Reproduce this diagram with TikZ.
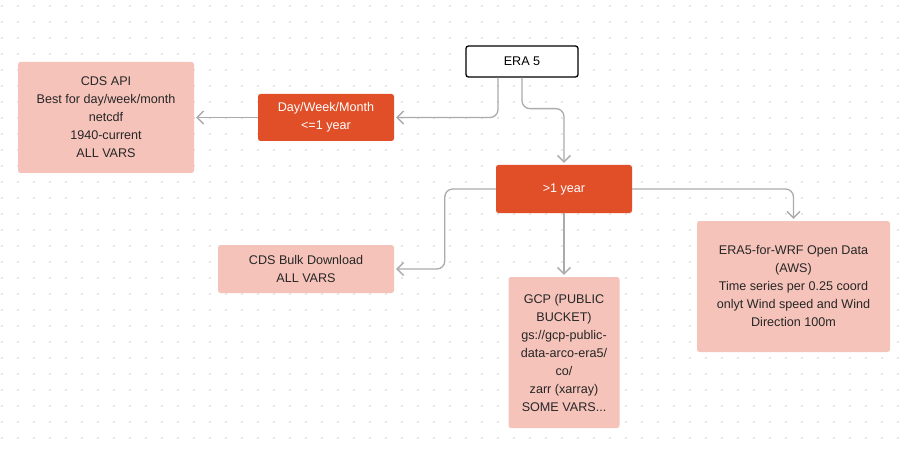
\documentclass[tikz,border=0pt]{standalone}
\usepackage{fontspec}
\setmainfont{Liberation Sans}
\usetikzlibrary{arrows.meta}
\definecolor{orangebox}{HTML}{E04F27}
\definecolor{pinkbox}{HTML}{F5C3BA}
\definecolor{conncol}{HTML}{ABABAB}
\definecolor{dotcol}{HTML}{E6E6E6}
\tikzset{
  boxbase/.style={rounded corners=2.5pt, align=center, inner sep=0pt, font=\fontsize{12.6}{18}\selectfont},
  startbox/.style={boxbase, draw=black, line width=1.3pt, fill=white},
  decbox/.style={boxbase, fill=orangebox, text=white},
  resbox/.style={boxbase, fill=pinkbox, text=black!85},
  conn/.style={draw=conncol, line width=1.3pt, rounded corners=8pt, -{Straight Barb[length=6.5pt,width=13pt]}, shorten >=2pt}
}
\begin{document}
\begin{tikzpicture}[x=1pt,y=-1pt]
\useasboundingbox (0,0) rectangle (912,449);
\fill[white] (0,0) rectangle (912,449);
\foreach \i in {0,...,56}{
  \foreach \j in {0,...,27}{
    \fill[dotcol] ({2+16*\i-0.6},{6+16*\j-0.6}) rectangle ++(1.2,1.2);
  }
}
\node[startbox, minimum width=112pt, minimum height=31pt] (era) at (522,61.5) {ERA 5};
\node[decbox, minimum width=136pt, minimum height=47pt] (dwm) at (326,117.5) {Day/Week/Month\\<=1 year};
\node[resbox, minimum width=176pt, minimum height=111pt] (api) at (106,117.5) {CDS API\\Best for day/week/month\\netcdf\\1940-current\\ALL VARS};
\node[decbox, minimum width=136pt, minimum height=48pt] (gt) at (564,189) {>1 year};
\node[resbox, minimum width=176pt, minimum height=48pt] (bulk) at (306,269) {CDS Bulk Download\\ALL VARS};
\node[resbox, minimum width=111pt, minimum height=151pt] (gcp) at (564,352.5) {GCP (PUBLIC\\BUCKET)\\gs://gcp-public-\\data-arco-era5/\\co/\\zarr (xarray)\\ SOME VARS...};
\node[resbox, minimum width=193pt, minimum height=131pt] (wrf) at (793.5,286.5) {ERA5-for-WRF Open Data\\(AWS)\\ Time series per 0.25 coord\\onlyt Wind speed and Wind\\Direction 100m};
\draw[conn] ([xshift=-24pt]era.south) |- (dwm.east);
\draw[conn] (era.south) -- ++(0,31) -| (gt.north);
\draw[conn] (dwm.west) -- (api.east);
\draw[conn] (gt.west) -- ++(-51,0) |- (bulk.east);
\draw[conn] (gt.south) -- (gcp.north);
\draw[conn] (gt.east) -| (wrf.north);
\end{tikzpicture}
\end{document}
